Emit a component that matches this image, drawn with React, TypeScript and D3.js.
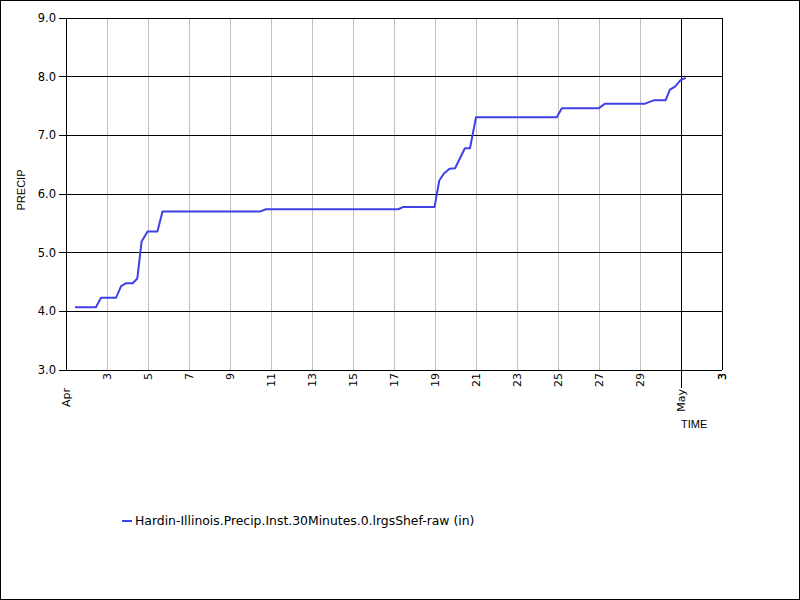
import React from "react";
import * as d3 from "d3";

const times = [
  "2024-04-01T10:30", "2024-04-02T11:00", "2024-04-02T17:00", "2024-04-03T10:30",
  "2024-04-03T16:30", "2024-04-03T22:30", "2024-04-04T06:00", "2024-04-04T11:30",
  "2024-04-04T16:30", "2024-04-04T23:30", "2024-04-05T11:00", "2024-04-05T17:00",
  "2024-04-10T11:00", "2024-04-10T18:00", "2024-04-17T05:00", "2024-04-17T11:00",
  "2024-04-18T23:30", "2024-04-19T05:00", "2024-04-19T10:30", "2024-04-19T17:00",
  "2024-04-19T23:30", "2024-04-20T11:00", "2024-04-20T17:00", "2024-04-21T00:00",
  "2024-04-24T22:30", "2024-04-25T04:30", "2024-04-26T23:30", "2024-04-27T07:00",
  "2024-04-29T06:00", "2024-04-29T16:30", "2024-04-30T06:00", "2024-04-30T11:00",
  "2024-04-30T17:00", "2024-04-30T23:30", "2024-05-01T05:30",
];
const precip = [
  4.07, 4.07, 4.23, 4.23,
  4.43, 4.48, 4.48, 4.56,
  5.19, 5.36, 5.36, 5.70,
  5.70, 5.74, 5.74, 5.78,
  5.78, 6.23, 6.35, 6.43,
  6.44, 6.78, 6.78, 7.31,
  7.31, 7.46, 7.46, 7.54,
  7.54, 7.60, 7.60, 7.78,
  7.83, 7.94, 7.98,
];
const yTicks = [3, 4, 5, 6, 7, 8, 9];
const xDomain = ["2024-04-01T00:00", "2024-05-03T00:00"];
const seriesName = "Hardin-Illinois.Precip.Inst.30Minutes.0.lrgsShef-raw (in)";

const parse = d3.utcParse("%Y-%m-%dT%H:%M");

export default function App() {
  const W = 800, H = 600;
  const left = 66, right = 722, top = 18, bottom = 370;
  const x = d3.scaleUtc().domain(xDomain.map((s) => parse(s) as Date)).range([left, right]);
  const y = d3.scaleLinear().domain([3, 9]).range([bottom, top]);
  const data = times.map((t, i) => ({ t: parse(t) as Date, v: precip[i] }));
  const line = d3.line<{ t: Date; v: number }>().x((d) => x(d.t)).y((d) => y(d.v));
  const dayTicks = x.ticks(d3.utcDay.every(1) as any).filter((d) => {
    const day = d.getUTCDate();
    return day !== 1 && day % 2 === 1;
  });
  const monthTicks = x.ticks(d3.utcMonth.every(1) as any);
  const fontV = "DejaVu Sans, Verdana, sans-serif";
  const fontA = "Liberation Sans, Arial, sans-serif";
  return (
    <svg width={W} height={H} style={{ position: "absolute", left: 0, top: 0, background: "#fff" }}>
      <rect x={0.5} y={0.5} width={W - 1} height={H - 1} fill="#fff" stroke="#000" />
      {dayTicks.map((d, i) => (
        <line key={"g" + i} x1={x(d)} x2={x(d)} y1={top} y2={bottom} stroke="#c0c0c0" strokeWidth={1} shapeRendering="crispEdges" />
      ))}
      {yTicks.map((v) => (
        <g key={"y" + v}>
          <line x1={left - 7} x2={right} y1={y(v)} y2={y(v)} stroke="#000" shapeRendering="crispEdges" />
          <text x={56} y={y(v) + 4} textAnchor="end" fontFamily={fontV} fontSize={11.5} fill="#000">
            {d3.format(".1f")(v)}
          </text>
        </g>
      ))}
      <line x1={left} x2={left} y1={top} y2={bottom} stroke="#000" shapeRendering="crispEdges" />
      <line x1={right} x2={right} y1={top} y2={bottom} stroke="#000" shapeRendering="crispEdges" />
      {monthTicks.map((d, i) => {
        const xm = x(d);
        const isFirst = xm <= left + 0.5;
        return (
          <g key={"m" + i}>
            {!isFirst && (
              <line x1={xm} x2={xm} y1={top} y2={388} stroke="#000" shapeRendering="crispEdges" />
            )}
            <text
              transform={`translate(${xm + 4},${isFirst ? 388 : 389}) rotate(-90)`}
              textAnchor="end"
              fontFamily={fontV}
              fontSize={11}
              fill="#000"
            >
              {d3.utcFormat("%b")(d)}
            </text>
          </g>
        );
      })}
      {dayTicks.map((d, i) => (
        <text
          key={"dl" + i}
          transform={`translate(${x(d) + 4},373) rotate(-90)`}
          textAnchor="end"
          fontFamily={fontV}
          fontSize={11}
          fill="#000"
        >
          {d3.utcFormat("%-d")(d)}
        </text>
      ))}
      <text x={722 + 4} y={373} transform={`rotate(-90, ${722 + 4}, 373)`} textAnchor="end" fontFamily={fontV} fontSize={11} fill="#000">
        {d3.utcFormat("%-d")(x.domain()[1])}
      </text>
      <path d={line(data) || ""} fill="none" stroke="#4040e6" strokeWidth={2} strokeLinejoin="round" />
      <text transform="translate(25,190) rotate(-90)" textAnchor="middle" fontFamily={fontA} fontSize={11} fill="#000">
        PRECIP
      </text>
      <text x={681} y={428} fontFamily={fontA} fontSize={11} fill="#000">
        TIME
      </text>
      <line x1={122} x2={132} y1={521} y2={521} stroke="#4040e6" strokeWidth={2} />
      <text x={135} y={525} fontFamily={fontV} fontSize={12.4} fill="#000">
        {seriesName}
      </text>
    </svg>
  );
}
